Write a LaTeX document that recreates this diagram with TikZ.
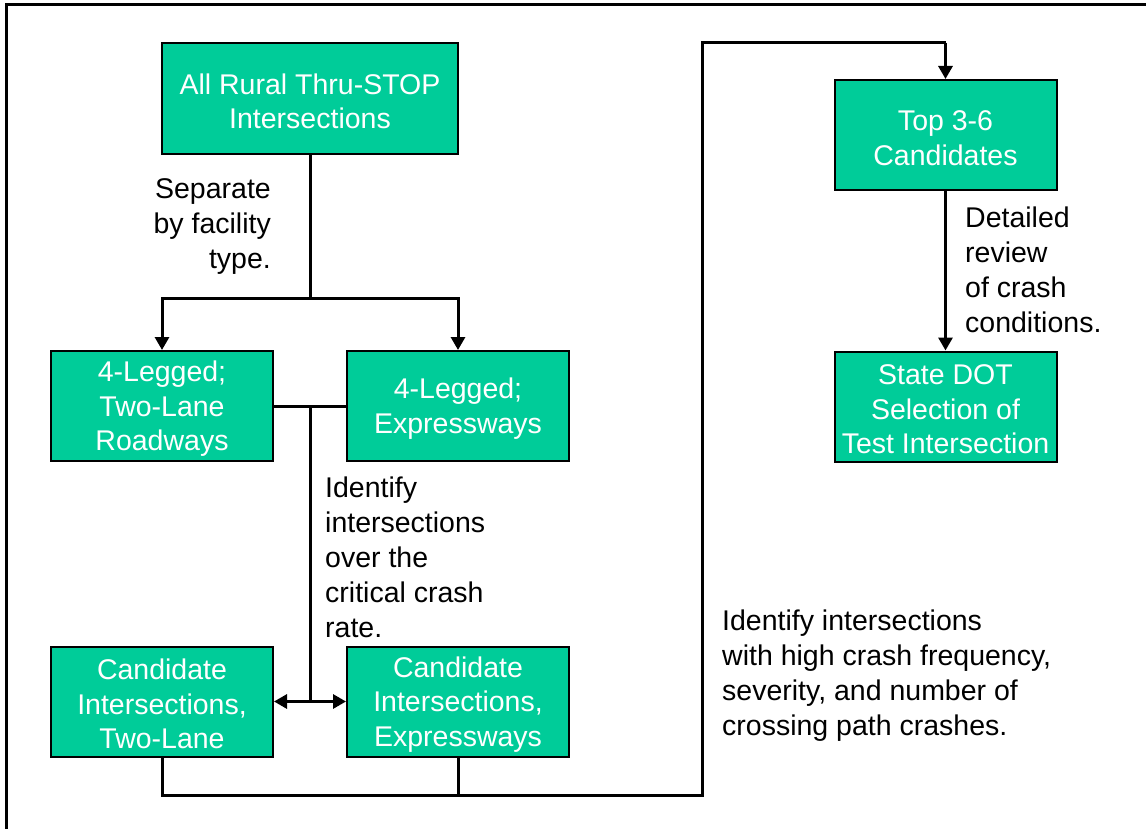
\documentclass[tikz,border=0pt]{standalone}
\usepackage{fontspec}
\setmainfont{Liberation Sans}
\usetikzlibrary{arrows.meta}
\definecolor{boxgreen}{RGB}{0,204,153}
\newcommand{\tstrut}{\rule{0pt}{26pt}}
\begin{document}
\begin{tikzpicture}[x=1pt,y=-1pt,
  box/.style={draw=black,line width=2pt,fill=boxgreen,text=white,align=center,
    minimum width=222pt,minimum height=110pt,inner sep=0pt,
    font=\fontsize{28.5}{34.5}\selectfont},
  lbl/.style={inner sep=0pt,font=\fontsize{28.5}{35}\selectfont},
  conn/.style={line width=3pt},
  arr/.style={conn,-{Triangle[length=13pt,width=14pt]}}]
\useasboundingbox (0,0) rectangle (1146,829);
\begin{scope}
\clip (0,0) rectangle (1146,829);
\draw[line width=3pt] (6,5) rectangle (1200,900);
\end{scope}
% boxes
\node[box,minimum width=296pt,minimum height=111pt] (A) at (310,98.5) {\tstrut All Rural Thru-STOP\\Intersections};
\node[box] (B) at (162,406) {\tstrut 4-Legged;\\Two-Lane\\Roadways};
\node[box] (C) at (458,406) {\tstrut 4-Legged;\\Expressways};
\node[box] (D) at (162,701.5) {\tstrut Candidate\\Intersections,\\Two-Lane};
\node[box] (E) at (458,701.5) {\tstrut Candidate\\Intersections,\\Expressways};
\node[box] (F) at (945.5,135) {\tstrut Top 3-6\\Candidates};
\node[box] (G) at (945.5,406.5) {\tstrut State DOT\\Selection of\\Test Intersection};
% coordinates
\coordinate (s1) at (310,298);
\coordinate (s2) at (310,406);
\coordinate (s3) at (310,701.5);
\coordinate (b1) at (162,795);
\coordinate (b2) at (702,795);
\coordinate (b3) at (458,795);
\coordinate (t1) at (702,43);
\coordinate (t2) at (945.5,43);
% connectors
\draw[conn] (A.south) -- (s1);
\draw[arr] (s1) -| (B.north);
\draw[arr] (s1) -| (C.north);
\draw[conn] (B.east) -- (C.west);
\draw[conn] (s2) -- (s3);
\draw[arr] (s3) -- (D.east);
\draw[arr] (s3) -- (E.west);
\draw[conn] (D.south) -- (b1) -- (b2) -- (t1) -- (t2);
\draw[conn] (E.south) -- (b3);
\draw[arr] (t2) -- (F.north);
\draw[arr] (F.south) -- (G.north);
% labels
\node[lbl,align=right,anchor=east] (l1) at (271,227) {Separate\\by facility\\type.};
\node[lbl,align=left,anchor=west] (l2) at (325,557) {Identify\\intersections\\over the\\critical crash\\rate.};
\node[lbl,align=left,anchor=west] (l3) at (965,270) {Detailed\\review\\of crash\\conditions.};
\node[lbl,align=left,anchor=west] (l4) at (722,676) {Identify intersections\\with high crash frequency,\\severity, and number of\\crossing path crashes.};
\end{tikzpicture}
\end{document}
